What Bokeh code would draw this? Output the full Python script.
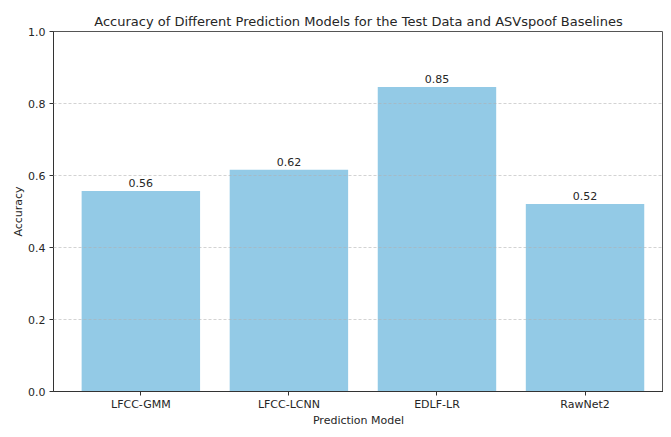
from bokeh.plotting import figure
from bokeh.models import Range1d, FixedTicker, NumeralTickFormatter, ColumnDataSource
from bokeh.embed import file_html
from bokeh.resources import INLINE
from bokeh.core.properties import value

models = ["LFCC-GMM", "LFCC-LCNN", "EDLF-LR", "RawNet2"]
accuracy = [0.557, 0.616, 0.846, 0.521]
y_ticks = [0.0, 0.2, 0.4, 0.6, 0.8, 1.0]

FONT = "DejaVu Sans"
TXT = "#262626"

xpos = list(range(len(models)))
labels = [f"{v:.2f}" for v in accuracy]
src = ColumnDataSource(dict(x=xpos, top=accuracy, label=labels))

p = figure(
    x_range=Range1d(-0.59, 3.53),
    y_range=Range1d(0, 1.0),
    width=663, height=429,
    output_backend="svg", toolbar_location=None,
    min_border_left=53, min_border_right=0, min_border_bottom=20, min_border_top=31,
    title="Accuracy of Different Prediction Models for the Test Data and ASVspoof Baselines",
)

p.vbar(x="x", top="top", width=0.8, source=src, fill_color="#93cae6", line_color=None)
p.text(x="x", y="top", text="label", source=src, text_align="center", text_baseline="bottom",
       y_offset=-4, text_font=value(FONT), text_font_size="11px", text_color=TXT)

p.title.align = "center"
p.title.text_font = FONT
p.title.text_font_size = "13px"
p.title.text_font_style = "normal"
p.title.text_color = TXT
p.title.standoff = 6

p.xgrid.grid_line_color = None
p.ygrid.grid_line_color = "#b0b0b0"
p.ygrid.grid_line_alpha = 0.7
p.ygrid.grid_line_dash = "3 2"
p.ygrid.grid_line_width = 0.8
p.ygrid.level = "overlay"
p.ygrid.ticker = FixedTicker(ticks=y_ticks)

p.yaxis.ticker = FixedTicker(ticks=y_ticks)
p.yaxis.formatter = NumeralTickFormatter(format="0.0")
p.xaxis.ticker = FixedTicker(ticks=xpos)
p.xaxis.major_label_overrides = {i: m for i, m in zip(xpos, models)}

for ax in (p.xaxis[0], p.yaxis[0]):
    ax.axis_line_color = "#333333"
    ax.axis_line_width = 1
    ax.major_tick_line_color = "#333333"
    ax.major_tick_out = 4
    ax.major_tick_in = 0
    ax.minor_tick_line_color = None
    ax.major_label_text_font = FONT
    ax.major_label_text_font_size = "11px"
    ax.major_label_text_color = TXT
    ax.axis_label_text_font = FONT
    ax.axis_label_text_font_size = "11px"
    ax.axis_label_text_font_style = "normal"
    ax.axis_label_text_color = TXT

p.xaxis.major_label_standoff = 2
p.yaxis.major_label_standoff = 4
p.xaxis.axis_label = "Prediction Model"
p.yaxis.axis_label = "Accuracy"
p.xaxis.axis_label_standoff = 0
p.yaxis.axis_label_standoff = 0

p.outline_line_color = "#555555"
p.outline_line_width = 1
p.background_fill_color = "white"
p.border_fill_color = "white"

open("out.html", "w").write(file_html(p, INLINE))
